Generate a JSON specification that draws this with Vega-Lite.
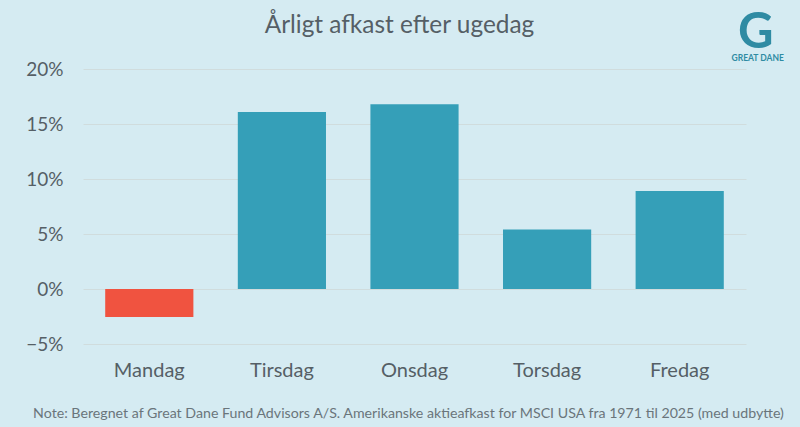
{
  "$schema": "https://vega.github.io/schema/vega-lite/v6.json",
  "width": 663,
  "height": 275,
  "autosize": "none",
  "padding": {"left": 83, "top": 69, "right": 54, "bottom": 83},
  "background": "#d5ebf2",
  "title": {
    "text": "Årligt afkast efter ugedag",
    "font": "Lato",
    "fontSize": 24.4,
    "fontWeight": "normal",
    "color": "#555f66",
    "anchor": "middle",
    "dx": -15,
    "offset": -29
  },
  "config": {"view": {"stroke": null}},
  "data": {
    "values": [
      {"dag": "Mandag", "afkast": -0.0255},
      {"dag": "Tirsdag", "afkast": 0.161},
      {"dag": "Onsdag", "afkast": 0.168},
      {"dag": "Torsdag", "afkast": 0.054},
      {"dag": "Fredag", "afkast": 0.089}
    ]
  },
  "layer": [
    {
      "mark": {"type": "bar"},
      "encoding": {
        "x": {
          "field": "dag",
          "type": "nominal",
          "sort": null,
          "scale": {"paddingInner": 0.335, "paddingOuter": 0.1675},
          "axis": {
            "title": "Note: Beregnet af Great Dane Fund Advisors A/S. Amerikanske aktieafkast for MSCI USA fra 1971 til 2025 (med udbytte)",
            "titleFont": "Lato",
            "titleFontSize": 14.2,
            "titleFontWeight": "normal",
            "titleColor": "#6a757b",
            "titleX": 325,
            "titleY": 69,
            "titleBaseline": "middle",
            "labelAngle": 0,
            "labelFont": "Lato",
            "labelFontSize": 20,
            "labelColor": "#555f66",
            "labelPadding": 16,
            "domain": false,
            "ticks": false
          }
        },
        "y": {
          "field": "afkast",
          "type": "quantitative",
          "scale": {"domain": [-0.05, 0.2], "nice": false},
          "axis": {
            "title": null,
            "values": [-0.05, 0, 0.05, 0.1, 0.15, 0.2],
            "format": ".0%",
            "labelFont": "Lato",
            "labelFontSize": 19,
            "labelColor": "#555f66",
            "labelPadding": 20,
            "domain": false,
            "ticks": false,
            "grid": true,
            "gridColor": "#d0dcdd",
            "gridWidth": 1
          }
        },
        "color": {
          "condition": {"test": "datum.afkast < 0", "value": "#f05340"},
          "value": "#359fb8"
        }
      }
    },
    {
      "data": {"values": [{"logo": "G"}]},
      "mark": {"type": "text", "font": "Lato", "fontSize": 49, "fontWeight": "bold", "color": "#2f8ba3", "xOffset": 76, "yOffset": -36, "baseline": "middle"},
      "encoding": {
        "x": {"datum": "Fredag"},
        "y": {"datum": 0.2},
        "text": {"field": "logo"}
      }
    },
    {
      "data": {"values": [{"logo": "GREAT DANE"}]},
      "mark": {"type": "text", "font": "Lato", "fontSize": 8.5, "fontWeight": "bold", "color": "#2f8ba3", "xOffset": 78, "yOffset": -11, "baseline": "middle"},
      "encoding": {
        "x": {"datum": "Fredag"},
        "y": {"datum": 0.2},
        "text": {"field": "logo"}
      }
    }
  ]
}
